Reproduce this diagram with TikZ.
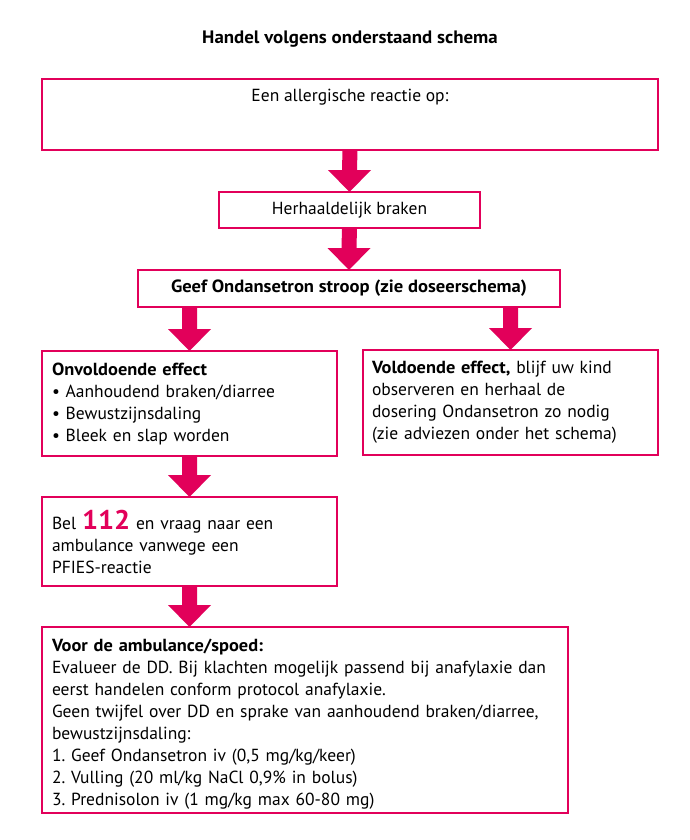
\documentclass[tikz,border=0pt]{standalone}
\usepackage{fontspec}
\setmainfont{PT Sans}[BoldFeatures={FakeStretch=1.05}]
\usetikzlibrary{calc}
\definecolor{pk}{HTML}{E2005A}
\frenchspacing
\newcommand\barrow[2]{%
  \fill[pk] ($(#1)+(-7.5,0)$) -- ($(#2)+(-7.5,-22)$) -- ($(#2)+(-21.5,-22)$) -- (#2)
    -- ($(#2)+(21.5,-22)$) -- ($(#2)+(7.5,-22)$) -- ($(#1)+(7.5,0)$) -- cycle;}
\tikzset{
  box/.style={draw=pk, line width=1.4pt, rectangle, inner xsep=10pt, inner ysep=0pt,
    outer sep=0pt, anchor=north west, font=\fontsize{17.5}{22}\selectfont},
  cbox/.style={box, align=center},
  lbox/.style={box, align=left},
  title/.style={font=\bfseries\fontsize{18}{20}\selectfont, inner sep=0pt}
}
\begin{document}
\begin{tikzpicture}[x=1pt,y=-1pt]
\useasboundingbox (0,0) rectangle (690,840);
\fill[white] (0,0) rectangle (690,840);
\node[title, anchor=base] (t) at (350,44) {Handel volgens onderstaand schema};
\node[box, minimum width=616pt, minimum height=71pt,
  label={[anchor=base, inner sep=0pt, font=\fontsize{17.5}{22}\selectfont, yshift=-23pt]north:Een allergische reactie op:}]
  (b1) at (42,79) {};
\node[cbox, minimum width=261pt, minimum height=36pt] (b2) at (219,192) {Herhaaldelijk braken};
\node[cbox, minimum width=422pt, minimum height=37pt, font=\bfseries\fontsize{17.7}{22}\selectfont] (b3) at (138,270) {Geef Ondansetron stroop (zie doseerschema)};
\node[lbox, text width=275pt, minimum height=105pt] (l) at (42,351) {\textbf{Onvoldoende effect}\\
\textbullet\ Aanhoudend braken/diarree\\
\textbullet\ Bewustzijnsdaling\\
\textbullet\ Bleek en slap worden};
\node[lbox, text width=277pt, inner xsep=9pt, minimum height=105pt] (r) at (363,350) {\textbf{Voldoende effect,} blijf uw kind\\
observeren en herhaal de\\
dosering Ondansetron zo nodig\\
(zie adviezen onder het schema)};
\node[lbox, text width=275pt, minimum height=89pt] (c) at (42,497) {Bel \textcolor{pk}{\bfseries\fontsize{27}{22}\selectfont 112} en vraag naar een\\
ambulance vanwege een\\
PFIES-reactie};
\node[lbox, text width=506pt, minimum height=186pt] (a) at (42,627) {\rule{0pt}{21pt}\textbf{Voor de ambulance/spoed:}\\
Evalueer de DD. Bij klachten mogelijk passend bij anafylaxie dan\\
eerst handelen conform protocol anafylaxie.\\
Geen twijfel over DD en sprake van aanhoudend braken/diarree,\\
bewustzijnsdaling:\\
1. Geef Ondansetron iv (0,5 mg/kg/keer)\\
2. Vulling (20 ml/kg NaCl 0,9\% in bolus)\\
3. Prednisolon iv (1 mg/kg max 60-80 mg)};
\barrow{b1.south}{b2.north}
\barrow{b2.south}{b3.north}
\coordinate (s1) at (b3.south -| l.north);
\coordinate (s2) at (b3.south -| r.north);
\barrow{s1}{l.north}
\barrow{s2}{r.north}
\barrow{l.south}{c.north}
\barrow{c.south}{a.north -| c.south}
\end{tikzpicture}
\end{document}
